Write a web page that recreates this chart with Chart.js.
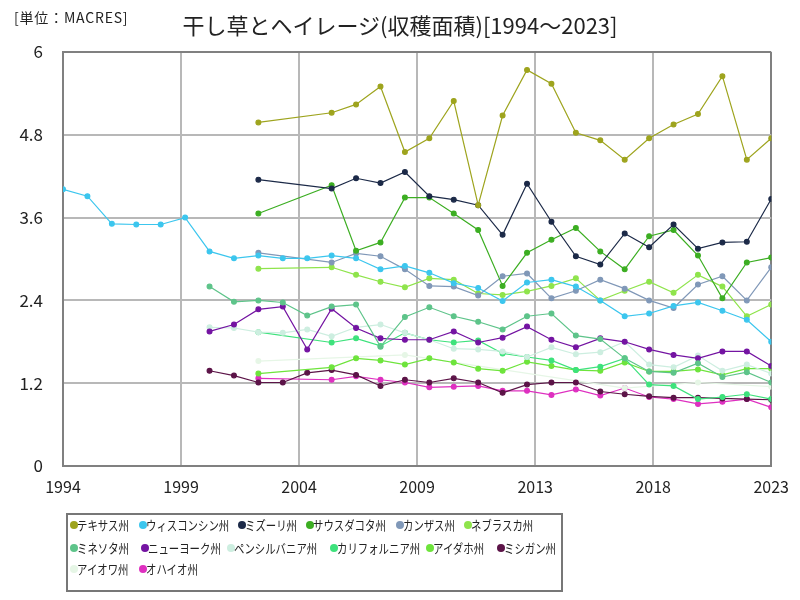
<!DOCTYPE html>
<html><head><meta charset="utf-8">
<script src="https://cdn.jsdelivr.net/npm/chart.js@4/dist/chart.umd.min.js"></script>
<style>
html,body{margin:0;padding:0;background:#fff;}
#wrap{position:relative;width:800px;height:600px;font-family:"Noto Sans CJK JP",sans-serif;}
#c{position:absolute;left:0;top:0;}
#unit{position:absolute;left:14px;top:7px;font-size:14px;color:#222;letter-spacing:0.8px;}
#title{position:absolute;left:0;width:800px;top:8px;text-align:center;font-size:22px;color:#222;}
#legend{position:absolute;left:66px;top:513px;width:493px;height:75px;border:2px solid #777;}
.li{position:absolute;height:16px;line-height:16px;font-size:13px;color:#222;white-space:nowrap;}
.li i{position:absolute;left:0;top:4px;width:8px;height:8px;border-radius:50%;}
.li span{position:absolute;left:7px;top:0;transform:scaleX(0.8);transform-origin:left;}
</style></head>
<body><div id="wrap"><canvas id="c" width="800" height="600"></canvas>
<div id="unit">[単位：MACRES]</div>
<div id="title">干し草とヘイレージ(収穫面積)[1994～2023]</div>
<div id="legend"></div></div>
<script>
const years = [1994,1995,1996,1997,1998,1999,2000,2001,2002,2003,2004,2005,2006,2007,2008,2009,2010,2011,2012,2013,2014,2015,2016,2017,2018,2019,2020,2021,2022,2023];
const n = null;
const texas      = [n,n,n,n,n,n,n,n,4.98,n,n,5.12,5.24,5.50,4.55,4.75,5.29,3.78,5.08,5.74,5.54,4.83,4.72,4.44,4.75,4.95,5.10,5.65,4.44,4.75];
const wisconsin  = [4.01,3.91,3.51,3.50,3.50,3.60,3.11,3.01,3.05,3.01,3.01,3.05,3.01,2.85,2.90,2.80,2.65,2.58,2.39,2.66,2.70,2.60,2.40,2.17,2.21,2.32,2.37,2.25,2.12,1.80];
const missouri   = [n,n,n,n,n,n,n,n,4.15,n,n,4.02,4.17,4.10,4.26,3.91,3.86,3.78,3.35,4.09,3.54,3.04,2.92,3.37,3.17,3.50,3.15,3.24,3.25,3.87];
const southDakota= [n,n,n,n,n,n,n,n,3.66,n,n,4.07,3.12,3.24,3.89,3.89,3.66,3.42,2.61,3.09,3.28,3.45,3.11,2.85,3.33,3.42,3.05,2.43,2.95,3.02];
const kansas     = [n,n,n,n,n,n,n,n,3.09,n,n,2.95,3.08,3.04,2.85,2.61,2.60,2.47,2.75,2.79,2.43,2.54,2.70,2.57,2.40,2.29,2.63,2.75,2.40,2.88];
const nebraska   = [n,n,n,n,n,n,n,n,2.86,n,n,2.88,2.77,2.67,2.59,2.72,2.70,2.50,2.48,2.53,2.61,2.72,2.40,2.54,2.67,2.51,2.77,2.60,2.17,2.34];
const minnesota  = [n,n,n,n,n,n,2.60,2.38,2.40,2.37,2.18,2.31,2.34,1.73,2.16,2.30,2.17,2.09,1.98,2.17,2.21,1.89,1.84,1.56,1.37,1.35,1.49,1.29,1.36,1.21];
const newYork    = [n,n,n,n,n,n,1.95,2.05,2.27,2.31,1.69,2.28,2.00,1.85,1.83,1.83,1.95,1.79,1.86,2.02,1.83,1.72,1.85,1.80,1.69,1.61,1.56,1.66,1.66,1.45];
const pennsylvania=[n,n,n,n,n,n,2.01,2.00,1.94,1.93,1.98,1.88,2.01,2.05,1.93,1.83,1.70,1.69,1.66,1.58,1.72,1.62,1.65,1.80,1.47,1.43,1.60,1.38,1.47,1.34];
const california = [n,n,n,n,n,n,n,n,1.94,n,n,1.79,1.85,1.74,1.93,1.83,1.79,1.82,1.63,1.58,1.53,1.39,1.44,1.56,1.18,1.16,0.97,1.00,1.04,0.97];
const idaho      = [n,n,n,n,n,n,n,n,1.34,n,n,1.43,1.56,1.53,1.47,1.56,1.50,1.41,1.38,1.51,1.45,1.39,1.38,1.50,1.37,1.37,1.40,1.32,1.41,1.41];
const michigan   = [n,n,n,n,n,n,1.38,1.31,1.21,1.21,1.35,1.39,1.32,1.16,1.25,1.21,1.27,1.21,1.06,1.18,1.21,1.21,1.08,1.04,1.01,0.99,0.99,0.98,0.97,0.96];
const iowa       = [n,n,n,n,n,n,n,n,1.52,n,n,n,n,n,1.61,n,n,n,n,n,n,n,n,1.13,n,n,1.21,n,n,1.15];
const ohio       = [n,n,n,n,n,n,n,n,1.27,n,n,1.25,1.30,1.25,1.21,1.14,1.15,1.16,1.09,1.09,1.03,1.11,1.02,1.13,1.00,0.97,0.90,0.93,0.97,0.85];

const seriesNames = ["テキサス州","ウィスコンシン州","ミズーリ州","サウスダコタ州","カンザス州","ネブラスカ州","ミネソタ州","ニューヨーク州","ペンシルバニア州","カリフォルニア州","アイダホ州","ミシガン州","アイオワ州","オハイオ州"];
const seriesValues = [texas,wisconsin,missouri,southDakota,kansas,nebraska,minnesota,newYork,pennsylvania,california,idaho,michigan,iowa,ohio];
const seriesColors = ["#9ea41e","#3cc6ee","#1c2a48","#3cae22","#8098b8","#8fe44c","#5ec48a","#7414a2","#cdeee0","#3ee27c","#6ee43c","#5c1448","#e6f6e6","#de30c0"];
const yTicks = [0,1.2,2.4,3.6,4.8,6];
const xTickCount = 6;

const datasets = seriesNames.map((name,i)=>({
  label:name,
  data: years.map((y,j)=>({x:y,y:seriesValues[i][j]})).filter(p=>p.y!==null),
  borderColor: seriesColors[i],
  backgroundColor: seriesColors[i],
  pointBackgroundColor: seriesColors[i],
  pointBorderColor: seriesColors[i],
  borderWidth: 1.2,
  pointRadius: 2.4,
  tension: 0
}));

new Chart(document.getElementById('c'), {
  type:'line',
  data:{datasets},
  options:{
    responsive:false, animation:false,
    layout:{padding:{left:0,right:28,top:52,bottom:0}},
    plugins:{legend:{display:false},title:{display:false},tooltip:{enabled:false}},
    scales:{
      x:{type:'linear',min:years[0],max:years[years.length-1],
        afterBuildTicks:(s)=>{const a=years[0],b=years[years.length-1];s.ticks=[];for(let i=0;i<=xTickCount;i++)s.ticks.push({value:a+(b-a)*i/xTickCount});},
        afterFit:(s)=>{s.height=134;},
        ticks:{callback:(v)=>String(Math.round(v)),font:{family:"Noto Sans CJK JP",size:16},color:'#222',padding:11,maxRotation:0,autoSkip:false},
        grid:{color:(c)=>c.index===xTickCount?'#808080':'#b8b8b8',lineWidth:2,drawTicks:false},
        border:{color:'#808080',width:2}
      },
      y:{min:0,max:6,
        afterBuildTicks:(s)=>{s.ticks=yTicks.map(v=>({value:v}));},
        afterFit:(s)=>{s.width=63;},
        ticks:{callback:(v)=>String(v),font:{family:"Noto Sans CJK JP",size:17},color:'#222',padding:20},
        grid:{color:(c)=>c.index===yTicks.length-1?'#808080':'#b8b8b8',lineWidth:2,drawTicks:false},
        border:{color:'#808080',width:2}
      }
    }
  }
});

// HTML legend
const legendPos = [[6,10],[75,10],[174,10],[242,10],[332,10],[400,10],
                   [6,33],[77,33],[163,33],[266,33],[362,33],[433,33],
                   [6,54],[75,54]];
const lg = document.getElementById('legend');
seriesNames.forEach((name,i)=>{
  const d=document.createElement('div');d.className='li';
  d.style.left=(legendPos[i][0]-4)+'px';d.style.top=(legendPos[i][1]-8)+'px';
  const m=document.createElement('i');m.style.background=seriesColors[i];
  const s=document.createElement('span');s.textContent=name;
  d.appendChild(m);d.appendChild(s);lg.appendChild(d);
});
</script></body></html>
